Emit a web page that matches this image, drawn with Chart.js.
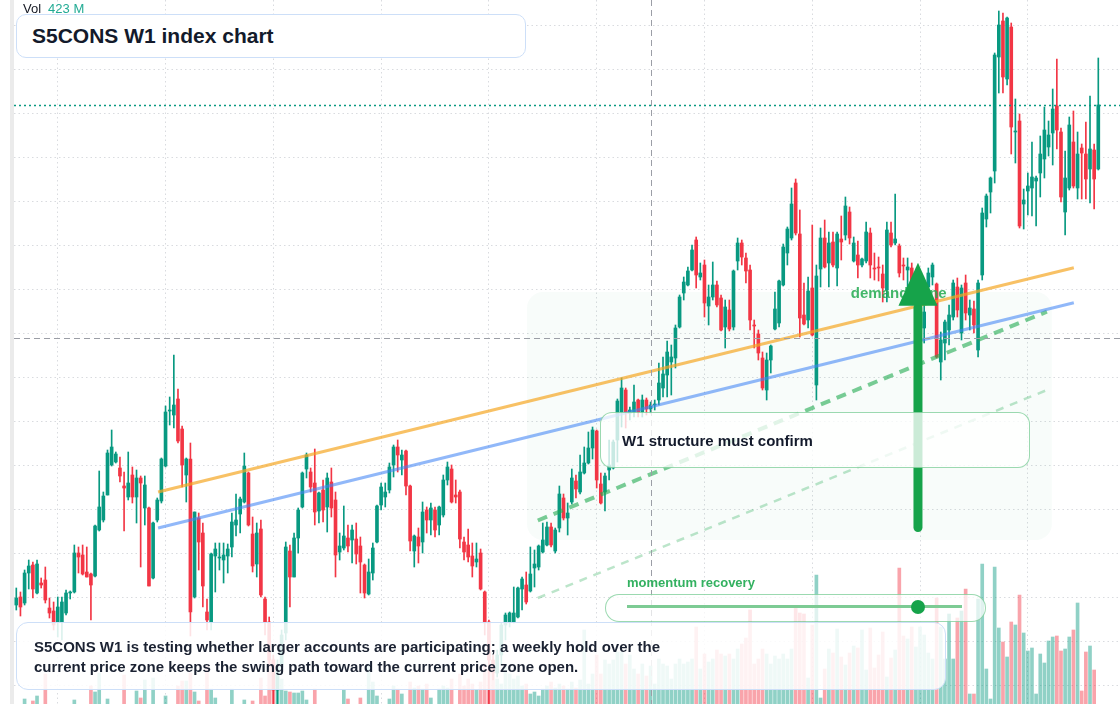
<!DOCTYPE html>
<html lang="en">
<head>
<meta charset="UTF-8">
<title>S5CONS W1 index chart</title>
<script src="https://cdn.jsdelivr.net/npm/chart.js"></script>
<style>
  html, body { margin: 0; padding: 0; background: #ffffff; }
  body { font-family: 'Liberation Sans', Arial, sans-serif; }
  .wrap { position: relative; width: 1120px; height: 704px; overflow: hidden; background: #fff; }
  #chart { position: absolute; left: 0; top: 0; }
  .vol { position: absolute; left: 23px; top: 1px; font-size: 13px; line-height: 15px; color: #131722; white-space: nowrap; }
  .vol span { color: #22ab94; margin-left: 7px; }
  .title-box {
    position: absolute; left: 16px; top: 14px; width: 510px; height: 44px; box-sizing: border-box;
    border: 1px solid #cddff8; border-radius: 10px; background: #fff;
    padding-left: 15px; font-size: 21px; font-weight: bold; line-height: 42px; color: #131a2b;
  }
  .note-box {
    position: absolute; left: 600px; top: 412px; width: 430px; height: 56px; box-sizing: border-box;
    border: 1.5px solid rgba(34,170,80,0.45); border-radius: 12px; background: rgba(255,255,255,0.78);
    padding: 3px 0 0 21px; font-size: 15px; font-weight: bold; line-height: 50px; color: #131a2b;
  }
  .mom-label { position: absolute; left: 627px; top: 575px; font-size: 13px; font-weight: bold; line-height: 16px; color: #33b160; white-space: nowrap; }
  .mom-pill {
    position: absolute; left: 605px; top: 594px; width: 381px; height: 28px; box-sizing: border-box;
    border: 1.5px solid rgba(34,170,80,0.45); border-radius: 14px; background: rgba(255,255,255,0.72);
  }
  .mom-track { position: absolute; left: 20.5px; top: 10px; width: 335px; height: 3px; background: #7dcb94; }
  .mom-dot { position: absolute; left: 304.5px; top: 4.5px; width: 14px; height: 14px; border-radius: 50%; background: #16a34a; }
  .summary {
    position: absolute; left: 16px; top: 622px; width: 930px; height: 68px; box-sizing: border-box;
    border: 1px solid #cddff8; border-radius: 12px; background: rgba(255,255,255,0.86);
    padding: 14px 0 0 17px; font-size: 15px; font-weight: bold; line-height: 20px; color: #1b2232;
  }
</style>
</head>
<body>
<div class="wrap">
  <canvas id="chart" width="1120" height="704"></canvas>
  <div class="vol">Vol<span>423 M</span></div>
  <div class="title-box">S5CONS W1 index chart</div>
  <div class="note-box">W1 structure must confirm</div>
  <div class="mom-label">momentum recovery</div>
  <div class="mom-pill"><div class="mom-track"></div><div class="mom-dot"></div></div>
  <div class="summary">S5CONS W1 is testing whether larger accounts are participating; a weekly hold over the<br>current price zone keeps the swing path toward the current price zone open.</div>
</div>

<script>
// weekly candles, index points
const opens = [
  300,308,302,332,340,312,322,325,297,294, 283,283,292,312,313,352,350,333,331,329,
  375,385,410,440,443,437,419,408,430,408, 427,397,397,327,385,404,439,494,490,506,
  476,430,446,308,387,372,293,283,349,347, 345,349,358,380,391,403,432,371,341,376,
  306,283,245,215,238,272,354,328,367,398, 436,433,422,394,415,398,423,405,353,357,
  367,365,366,359,340,311,332,363,400,408, 415,440,458,445,454,419,354,368,363,395,
  385,395,380,390,425,436,410,413,363,360, 349,343,352,313,283,245,232,250,280,283,
  283,288,316,320,314,337,338,353,360,378, 354,377,407,387,403,424,413,432,442,457,
  474,421,413,435,437,465,493,515,492,493, 505,493,505,496,500,505,517,530,543,547,
  578,612,620,635,665,628,640,599,608,620, 607,578,595,578,644,662,647,635,580,571,
  547,515,545,576,582,620,652,667,722,671, 590,585,617,520,636,667,642,663,637,666,
  670,693,644,650,640,644,672,637,638,631, 615,672,662,659,640,635,637,612,600,577,
  618,628,621,543,562,575,588,618,572,622, 590,596,555,630,686,713,734,848,884,826,
  878,773,784,701,714,717,724,732,746,758, 772,799,773,693,717,763,717,757,751,736,
  755,736
];
const highs = [
  317,313,335,345,343,345,327,338,307,303, 308,308,315,314,360,358,360,358,332,380,
  434,413,455,475,453,448,433,453,438,435, 429,429,398,383,407,447,499,508,550,516,
  479,447,462,393,392,382,306,352,362,362, 362,361,392,411,408,452,433,388,382,385,
  308,288,250,245,275,363,360,372,397,433, 452,437,456,413,425,432,437,413,372,399,
  380,380,382,368,341,346,362,400,422,422, 442,460,465,455,455,420,370,377,403,398,
  402,398,399,430,443,440,425,415,368,376, 362,362,356,314,285,250,255,282,292,293,
  318,318,328,333,358,355,360,382,383,382, 377,419,411,402,436,430,450,458,473,478,
  475,432,432,465,465,506,527,517,498,520, 506,510,507,503,505,542,548,564,560,580,
  610,628,638,660,668,642,645,620,643,624, 610,605,605,635,667,665,652,640,585,575,
  553,552,560,613,625,661,678,717,726,695, 622,628,680,640,677,685,673,673,673,689,
  708,698,668,664,647,683,677,652,648,640, 683,683,711,661,647,647,642,628,625,602,
  637,642,622,573,585,600,625,627,620,630, 605,604,625,697,711,728,852,894,892,888,
  882,806,791,716,732,763,729,769,798,784, 816,846,777,754,788,794,773,761,783,809,
  761,847
];
const lows = [
  295,289,300,316,307,311,317,302,287,275, 268,265,290,306,312,332,330,328,285,328,
  374,383,410,439,442,423,374,405,402,382, 338,380,319,326,383,402,438,480,477,462,
  418,403,269,307,335,298,275,275,313,335, 322,332,348,369,372,402,379,333,328,308,
  270,240,200,200,232,265,298,328,352,397, 427,413,380,382,383,373,388,328,345,355,
  353,342,341,312,307,310,325,362,395,398, 412,428,433,430,410,354,338,342,352,372,
  370,368,370,388,420,402,402,357,345,343, 328,338,315,270,200,225,228,240,265,278,
  282,287,295,301,313,318,335,352,359,358, 352,373,385,370,401,407,411,431,441,446,
  417,401,394,425,436,443,478,477,485,488, 488,488,490,492,495,500,508,508,510,537,
  577,605,619,634,617,625,588,580,605,598, 574,557,574,575,635,640,622,575,557,545,
  515,505,532,575,578,619,640,665,670,568, 580,577,569,505,618,637,618,638,619,645,
  665,661,643,627,638,642,627,625,624,603, 603,658,660,628,625,608,610,600,590,562,
  607,620,547,525,545,560,585,588,565,585, 575,572,548,625,678,692,722,812,812,820,
  751,742,677,676,690,689,679,708,727,749, 740,756,703,670,715,717,706,706,706,702,
  696,735
];
const closes = [
  307,298,332,339,316,341,320,305,292,280, 298,303,312,312.5,352,348,331,328,320,379,
  398,409,452,458,451,429,417,422,408,427, 422,420,319,382,405,446,493,495,500,464,
  440,446,293,393,363,319,285,351,356,348, 350,356,383,385,406,439,380,339,372,310,
  283,245,215,238,270,358,328,367,395,432, 450,418,393,412,395,427,397,350,359,369,
  359,375,351,343,312,333,357,399,418,413, 438,458,450,450,419,364,369,359,393,385,
  397,375,398,425,438,403,408,366,353,348, 339,346,316,282,245,232,250,280,290,292,
  292,317,326,303,331,341,359,365,378,360, 375,411,387,392,427,416,433,442,457,475,
  425,402,429,440,463,504,517,493,495,503, 493,505,496,500,500.5,522,531,553,548,577,
  608,623,634,655,630,632,602,608,620,600, 575,598,576,634,662,648,634,585,579,552,
  517,545,559,596,624,658,676,701,672,587, 581,614,570,629,667,638,662,640,671,663,
  699,667,662,640,646,673,640,636,637,617, 675,660,666,632,639,638,618,625,620,593,
  632,640,548,565,583,590,622,595,617,592, 597,580,622,692,709,727,850,880,828,887,
  778,774,679,705,719,728,727,751,775,770, 796,775,708,727,780,719,751,752,726,756,
  726,800
];
// weekly volume, millions
const volumes = [
  90,90,125,90,115,140,90,250,90,90, 90,90,90,90,120,90,90,90,190,160,
  255,90,125,90,90,90,245,90,90,165, 130,220,90,230,90,90,140,90,90,190,
  215,215,255,160,115,90,290,175,130,90, 90,90,175,90,90,120,90,115,90,230,
  140,400,325,300,225,165,160,155,155,165, 120,90,175,90,90,90,90,90,90,170,
  125,90,90,130,90,300,210,140,90,90, 125,190,175,150,90,210,180,190,175,200,
  130,90,175,190,180,225,90,250,190,225, 200,170,210,300,275,250,225,200,290,250,
  225,240,190,200,150,160,140,175,190,210, 180,200,190,175,210,180,220,470,200,250,
  345,250,320,300,320,360,360,300,345,275, 250,300,240,290,200,325,300,290,225,300,
  325,300,310,325,485,275,350,310,325,370, 350,340,350,325,375,400,430,570,300,325,
  375,350,300,340,325,350,325,375,580,555, 550,230,495,745,130,275,375,355,475,335,
  295,355,390,380,470,270,480,280,345,460, 235,330,370,780,440,425,485,385,485,445,
  355,325,630,485,325,550,325,530,565,675, 150,150,625,800,275,125,785,480,410,335,
  510,495,645,455,365,380,150,350,305,415, 435,440,365,375,435,470,605,165,360,390,
  270,90
];

// drawn lines: [week, price] pairs
const resistanceLine = [[35.2, 413], [256.1, 637.3]];
const supportLine = [[35.2, 377], [256.1, 602.3]];
const channelTop = [[126.8, 384.5], [249.6, 593.3]];
const channelLow = [[126.8, 307], [249.8, 515.3]];

const zone = { from: 124.2, to: 250.8, top: 613, bottom: 365, labelWeek: 202.3, labelPrice: 607 };
const arrow = { week: 218.5, from: 377.5, headBase: 599.3, to: 642.3 };
const crosshair = { week: 154.2, price: 566.7 };

const gridWeeks = [24, 50, 76, 102, 128, 154, 180, 206, 232, 258];
const gridPrices = [220, 264, 308, 352, 396, 440, 484, 528, 572, 616, 660, 704, 748, 792, 836, 880];

const UP = '#089981';
const DOWN = '#f23645';

const weeks = opens.map((_, i) => i + 1);
const isUp = closes.map((c, i) => c >= opens[i]);
const toXY = pts => pts.map(p => ({ x: p[0], y: p[1] }));

function roundRect(c, x, y, w, h, r) {
  c.beginPath();
  c.moveTo(x + r, y);
  c.arcTo(x + w, y, x + w, y + h, r);
  c.arcTo(x + w, y + h, x, y + h, r);
  c.arcTo(x, y + h, x, y, r);
  c.arcTo(x, y, x + w, y, r);
  c.closePath();
}

const extras = {
  id: 'extras',
  beforeDraw(chart) {
    const c = chart.ctx;
    c.save();
    c.fillStyle = '#ebebeb';
    c.fillRect(10, 0, 4, chart.height);
    c.restore();
  },
  beforeDatasetsDraw(chart) {
    const { ctx: c, scales: { x, y } } = chart;
    const x0 = x.getPixelForValue(zone.from), x1 = x.getPixelForValue(zone.to);
    const y0 = y.getPixelForValue(zone.top), y1 = y.getPixelForValue(zone.bottom);
    c.save();
    c.fillStyle = 'rgba(34,170,80,0.03)';
    roundRect(c, x0, y0, x1 - x0, y1 - y0, 16);
    c.fill();
    c.restore();
  },
  afterDatasetsDraw(chart) {
    const { ctx: c, chartArea: a, scales: { x, y } } = chart;
    c.save();

    // last price line
    const py = Math.round(y.getPixelForValue(closes[closes.length - 1])) + 0.5;
    c.strokeStyle = UP;
    c.lineWidth = 1.3;
    c.setLineDash([2, 3]);
    c.beginPath();
    c.moveTo(a.left, py);
    c.lineTo(a.right, py);
    c.stroke();

    // crosshair
    const cx = Math.round(x.getPixelForValue(crosshair.week)) + 0.5;
    const cy = Math.round(y.getPixelForValue(crosshair.price)) + 0.5;
    c.strokeStyle = '#9b9ea6';
    c.lineWidth = 1;
    c.setLineDash([6, 4]);
    c.beginPath();
    c.moveTo(a.left, cy); c.lineTo(a.right, cy);
    c.moveTo(cx, a.top); c.lineTo(cx, a.bottom);
    c.stroke();
    c.setLineDash([]);

    // zone label
    c.font = 'bold 15px "Liberation Sans", Arial, sans-serif';
    c.fillStyle = 'rgba(34,170,80,0.85)';
    c.textBaseline = 'alphabetic';
    c.fillText('demand zone', x.getPixelForValue(zone.labelWeek), y.getPixelForValue(zone.labelPrice));

    // arrow
    const ax = x.getPixelForValue(arrow.week);
    const yTail = y.getPixelForValue(arrow.from);
    const yBase = y.getPixelForValue(arrow.headBase);
    const yTip = y.getPixelForValue(arrow.to);
    c.strokeStyle = '#16a34a';
    c.fillStyle = '#16a34a';
    c.lineWidth = 9;
    c.lineCap = 'round';
    c.beginPath();
    c.moveTo(ax, yTail);
    c.lineTo(ax, yBase + 2);
    c.stroke();
    c.beginPath();
    c.moveTo(ax, yTip);
    c.lineTo(ax - 19.5, yBase);
    c.lineTo(ax + 19.5, yBase);
    c.closePath();
    c.fill();

    c.restore();
  }
};

const lineDs = (label, pts, color, width, dash) => ({
  type: 'line', label, data: toXY(pts), borderColor: color, borderWidth: width,
  borderDash: dash || [], pointRadius: 0, fill: false, order: 0
});

new Chart(document.getElementById('chart').getContext('2d'), {
  type: 'bar',
  data: {
    datasets: [
      lineDs('resistance', resistanceLine, 'rgba(245,166,35,0.7)', 3),
      lineDs('support', supportLine, 'rgba(66,133,244,0.58)', 3),
      lineDs('channel top', channelTop, 'rgba(34,170,80,0.6)', 4, [10, 7]),
      lineDs('channel low', channelLow, 'rgba(34,170,80,0.3)', 2.5, [8, 7]),
      {
        label: 'body',
        data: weeks.map((w, i) => ({ x: w, y: [opens[i], closes[i]] })),
        backgroundColor: isUp.map(u => u ? UP : DOWN),
        barThickness: 3, minBarLength: 1, grouped: false, order: 1
      },
      {
        label: 'wick',
        data: weeks.map((w, i) => ({ x: w, y: [lows[i], highs[i]] })),
        backgroundColor: isUp.map(u => u ? UP : DOWN),
        barThickness: 1, grouped: false, order: 2
      },
      {
        label: 'volume',
        yAxisID: 'yv',
        data: weeks.map((w, i) => ({ x: w, y: volumes[i] })),
        backgroundColor: isUp.map(u => u ? 'rgba(8,153,129,0.45)' : 'rgba(242,54,69,0.45)'),
        barThickness: 3, grouped: false, order: 3
      }
    ]
  },
  options: {
    responsive: false,
    animation: false,
    events: [],
    layout: { padding: { left: 14, right: 0, top: 0, bottom: 0 } },
    plugins: { legend: { display: false }, tooltip: { enabled: false } },
    scales: {
      x: {
        type: 'linear', min: 0.4452, max: 267.235, offset: false,
        ticks: { display: false },
        grid: { color: '#d9dbdf', drawTicks: false, lineWidth: 1 },
        border: { display: false, dash: [1.5, 3] },
        afterBuildTicks: s => { s.ticks = gridWeeks.map(v => ({ value: v })); }
      },
      y: {
        min: 201, max: 905, position: 'left',
        ticks: { display: false },
        grid: { color: '#d9dbdf', drawTicks: false, lineWidth: 1 },
        border: { display: false, dash: [1.5, 3] },
        afterBuildTicks: s => { s.ticks = gridPrices.map(v => ({ value: v })); }
      },
      yv: { display: false, min: 100, max: 3620 }
    }
  },
  plugins: [extras]
});
</script>
</body>
</html>
